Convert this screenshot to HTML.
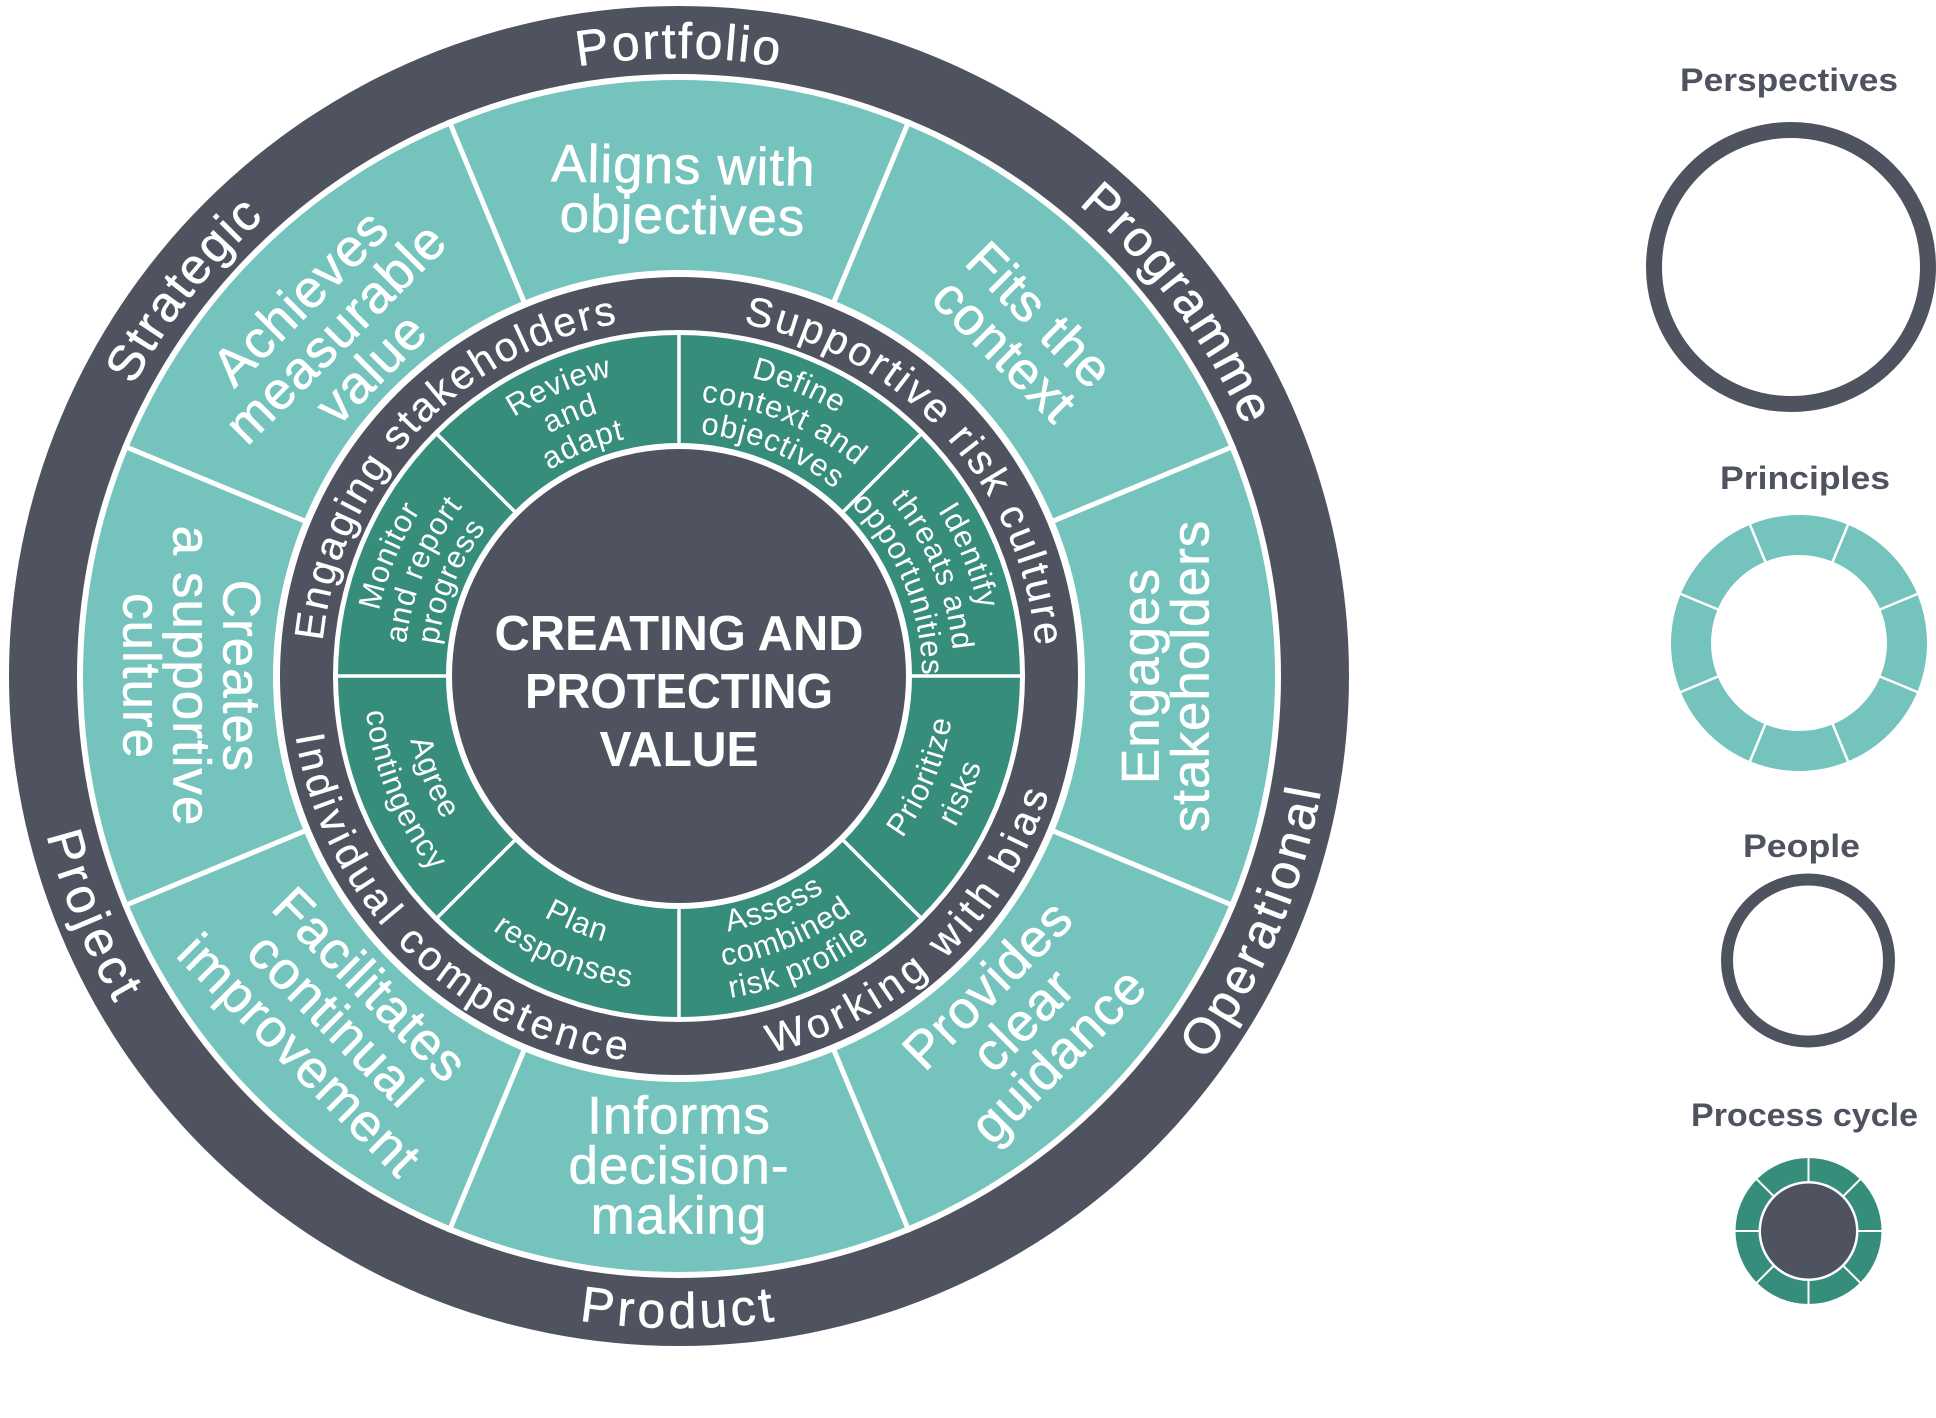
<!DOCTYPE html>
<html>
<head>
<meta charset="utf-8">
<style>
  html, body { margin: 0; padding: 0; background: #ffffff; }
  body { width: 1936px; height: 1418px; overflow: hidden; }
  svg { display: block; }
  .persp { font-family: "Liberation Sans", sans-serif; font-size: 50px; fill: #ffffff; stroke: #ffffff; stroke-width: 0.6px; }
  .ppl { font-family: "Liberation Sans", sans-serif; font-size: 41px; fill: #ffffff; stroke: #ffffff; stroke-width: 0.3px; }
  .prc { font-family: "Liberation Sans", sans-serif; font-size: 31px; fill: #ffffff; letter-spacing: 1px; }
  .prin { font-family: "Liberation Sans", sans-serif; font-size: 53px; fill: #ffffff; letter-spacing: 1px; stroke: #ffffff; stroke-width: 0.6px; }
  .ctr { font-family: "Liberation Sans", sans-serif; font-size: 49px; font-weight: bold; fill: #ffffff; }
  .leg { font-family: "Liberation Sans", sans-serif; font-size: 32px; font-weight: bold; fill: #4f5360; }
</style>
</head>
<body>
<svg width="1936" height="1418" viewBox="0 0 1936 1418" xmlns="http://www.w3.org/2000/svg">
  <defs>
    <path id="t618" d="M 70.39 568.68 A 618 618 0 0 1 1287.61 568.68"/>
    <path id="t358" d="M 326.44 613.83 A 358 358 0 0 1 1031.56 613.83"/>
    <path id="t307" d="M 376.66 622.69 A 307 307 0 0 1 981.34 622.69"/>
    <path id="t275" d="M 408.18 628.25 A 275 275 0 0 1 949.82 628.25"/>
    <path id="t243" d="M 439.69 633.80 A 243 243 0 0 1 918.31 633.80"/>
    <path id="b652" d="M 36.90 789.22 A 652 652 0 0 0 1321.10 789.22"/>
    <path id="b388" d="M 296.89 743.38 A 388 388 0 0 0 1061.11 743.38"/>
    <path id="b276" d="M 407.19 723.93 A 276 276 0 0 0 950.81 723.93"/>
    <path id="b315" d="M 368.78 730.70 A 315 315 0 0 0 989.22 730.70"/>
    <path id="b260" d="M 422.95 721.15 A 260 260 0 0 0 935.05 721.15"/>
    <path id="b293" d="M 390.45 726.88 A 293 293 0 0 0 967.55 726.88"/>
    <path id="b326" d="M 357.95 732.61 A 326 326 0 0 0 1000.05 732.61"/>
  </defs>

  <rect x="0" y="0" width="1936" height="1418" fill="#ffffff"/>

  <!-- ===== Main wheel ===== -->
  <circle cx="679" cy="676" r="670" fill="#4f5360"/>
  <circle cx="679" cy="676" r="602" fill="#ffffff"/>
  <circle cx="679" cy="676" r="596" fill="#74c4bd"/>
  <g stroke="#ffffff" stroke-width="5">
    <line x1="679" y1="74" x2="679" y2="272" transform="rotate(22.5 679 676)"/>
    <line x1="679" y1="74" x2="679" y2="272" transform="rotate(67.5 679 676)"/>
    <line x1="679" y1="74" x2="679" y2="272" transform="rotate(112.5 679 676)"/>
    <line x1="679" y1="74" x2="679" y2="272" transform="rotate(157.5 679 676)"/>
    <line x1="679" y1="74" x2="679" y2="272" transform="rotate(202.5 679 676)"/>
    <line x1="679" y1="74" x2="679" y2="272" transform="rotate(247.5 679 676)"/>
    <line x1="679" y1="74" x2="679" y2="272" transform="rotate(292.5 679 676)"/>
    <line x1="679" y1="74" x2="679" y2="272" transform="rotate(337.5 679 676)"/>
  </g>
  <circle cx="679" cy="676" r="406" fill="#ffffff"/>
  <circle cx="679" cy="676" r="399" fill="#4f5360"/>
  <circle cx="679" cy="676" r="346" fill="#ffffff"/>
  <circle cx="679" cy="676" r="341" fill="#378d7c"/>
  <g stroke="#ffffff" stroke-width="3.5">
    <line x1="679" y1="333" x2="679" y2="445" transform="rotate(0 679 676)"/>
    <line x1="679" y1="333" x2="679" y2="445" transform="rotate(45 679 676)"/>
    <line x1="679" y1="333" x2="679" y2="445" transform="rotate(90 679 676)"/>
    <line x1="679" y1="333" x2="679" y2="445" transform="rotate(135 679 676)"/>
    <line x1="679" y1="333" x2="679" y2="445" transform="rotate(180 679 676)"/>
    <line x1="679" y1="333" x2="679" y2="445" transform="rotate(225 679 676)"/>
    <line x1="679" y1="333" x2="679" y2="445" transform="rotate(270 679 676)"/>
    <line x1="679" y1="333" x2="679" y2="445" transform="rotate(315 679 676)"/>
  </g>
  <circle cx="679" cy="676" r="233" fill="#ffffff"/>
  <circle cx="679" cy="676" r="227" fill="#4f5360"/>

  <!-- Center text -->
  <text class="ctr" x="679" y="650" text-anchor="middle" textLength="369" lengthAdjust="spacingAndGlyphs">CREATING AND</text>
  <text class="ctr" x="679" y="708" text-anchor="middle" textLength="308" lengthAdjust="spacingAndGlyphs">PROTECTING</text>
  <text class="ctr" x="679" y="766" text-anchor="middle" textLength="159" lengthAdjust="spacingAndGlyphs">VALUE</text>

  <!-- Perspectives (outer ring) -->
  <g text-anchor="middle">
    <text class="persp" style="letter-spacing:2.2px"><textPath href="#t618" startOffset="50%">Portfolio</textPath></text>
    <g transform="rotate(53.3 679 676)"><text class="persp" style="letter-spacing:2.2px"><textPath href="#t618" startOffset="50%">Programme</textPath></text></g>
    <g transform="rotate(-52 679 676)"><text class="persp" style="letter-spacing:2px"><textPath href="#t618" startOffset="50%">Strategic</textPath></text></g>
    <g transform="rotate(-67 679 676)"><text class="persp" style="letter-spacing:3.8px"><textPath href="#b652" startOffset="50%">Operational</textPath></text></g>
    <text class="persp" style="letter-spacing:4px"><textPath href="#b652" startOffset="50%">Product</textPath></text>
    <g transform="rotate(67.7 679 676)"><text class="persp" style="letter-spacing:4.4px"><textPath href="#b652" startOffset="50%">Project</textPath></text></g>
  </g>

  <!-- People ring -->
  <g text-anchor="middle">
    <g transform="rotate(-47 679 676)"><text class="ppl" style="letter-spacing:2.4px"><textPath href="#t358" startOffset="50%">Engaging stakeholders</textPath></text></g>
    <g transform="rotate(48 679 676)"><text class="ppl" style="letter-spacing:2.8px"><textPath href="#t358" startOffset="50%">Supportive risk culture</textPath></text></g>
    <g transform="rotate(-43.4 679 676)"><text class="ppl" style="letter-spacing:4.8px"><textPath href="#b388" startOffset="50%">Working with bias</textPath></text></g>
    <g transform="rotate(44.2 679 676)"><text class="ppl" style="letter-spacing:4.4px"><textPath href="#b388" startOffset="50%">Individual competence</textPath></text></g>
  </g>

  <!-- Process cycle ring -->
  <g text-anchor="middle">
    <g transform="rotate(-22.5 679 676)">
      <text class="prc"><textPath href="#t307" startOffset="50%">Review</textPath></text>
      <text class="prc"><textPath href="#t275" startOffset="50%">and</textPath></text>
      <text class="prc"><textPath href="#t243" startOffset="50%">adapt</textPath></text>
    </g>
    <g transform="rotate(22.5 679 676)">
      <text class="prc"><textPath href="#t307" startOffset="50%">Define</textPath></text>
      <text class="prc"><textPath href="#t275" startOffset="50%">context and</textPath></text>
      <text class="prc"><textPath href="#t243" startOffset="50%">objectives</textPath></text>
    </g>
    <g transform="rotate(67.5 679 676)">
      <text class="prc"><textPath href="#t307" startOffset="50%">Identify</textPath></text>
      <text class="prc"><textPath href="#t275" startOffset="50%">threats and</textPath></text>
      <text class="prc"><textPath href="#t243" startOffset="50%">opportunities</textPath></text>
    </g>
    <g transform="rotate(-67.5 679 676)">
      <text class="prc"><textPath href="#t307" startOffset="50%">Monitor</textPath></text>
      <text class="prc"><textPath href="#t275" startOffset="50%">and report</textPath></text>
      <text class="prc"><textPath href="#t243" startOffset="50%">progress</textPath></text>
    </g>
    <g transform="rotate(-67.5 679 676)">
      <text class="prc"><textPath href="#b276" startOffset="50%">Prioritize</textPath></text>
      <text class="prc"><textPath href="#b315" startOffset="50%">risks</textPath></text>
    </g>
    <g transform="rotate(-22.5 679 676)">
      <text class="prc"><textPath href="#b260" startOffset="50%">Assess</textPath></text>
      <text class="prc"><textPath href="#b293" startOffset="50%">combined</textPath></text>
      <text class="prc"><textPath href="#b326" startOffset="50%">risk profile</textPath></text>
    </g>
    <g transform="rotate(22.5 679 676)">
      <text class="prc"><textPath href="#b276" startOffset="50%">Plan</textPath></text>
      <text class="prc"><textPath href="#b315" startOffset="50%">responses</textPath></text>
    </g>
    <g transform="rotate(67.5 679 676)">
      <text class="prc"><textPath href="#b276" startOffset="50%">Agree</textPath></text>
      <text class="prc"><textPath href="#b315" startOffset="50%">contingency</textPath></text>
    </g>
  </g>

  <!-- Principles (teal ring) -->
  <g text-anchor="middle">
    <g transform="translate(683 190) rotate(1)">
      <text class="prin" y="-6.5">Aligns with</text>
      <text class="prin" y="43.5">objectives</text>
    </g>
    <g transform="translate(1022.6 332.4) rotate(45)">
      <text class="prin" y="-6.5">Fits the</text>
      <text class="prin" y="43.5">context</text>
    </g>
    <g transform="translate(1165 676) rotate(-90)">
      <text class="prin" y="-6.5">Engages</text>
      <text class="prin" y="43.5">stakeholders</text>
    </g>
    <g transform="translate(1022.6 1019.6) rotate(-45)">
      <text class="prin" y="-31.5">Provides</text>
      <text class="prin" y="18.5">clear</text>
      <text class="prin" y="68.5">guidance</text>
    </g>
    <g transform="translate(679 1165)">
      <text class="prin" y="-31.5">Informs</text>
      <text class="prin" y="18.5">decision-</text>
      <text class="prin" y="68.5">making</text>
    </g>
    <g transform="translate(335.4 1019.6) rotate(45)">
      <text class="prin" y="-31.5">Facilitates</text>
      <text class="prin" y="18.5">continual</text>
      <text class="prin" y="68.5">improvement</text>
    </g>
    <g transform="translate(192 676) rotate(90)">
      <text class="prin" y="-31.5">Creates</text>
      <text class="prin" y="18.5">a supportive</text>
      <text class="prin" y="68.5">culture</text>
    </g>
    <g transform="translate(335.4 332.4) rotate(-45)">
      <text class="prin" y="-31.5">Achieves</text>
      <text class="prin" y="18.5">measurable</text>
      <text class="prin" y="68.5">value</text>
    </g>
  </g>

  <!-- ===== Legend ===== -->
  <text class="leg" x="1789" y="91" text-anchor="middle" textLength="218" lengthAdjust="spacingAndGlyphs">Perspectives</text>
  <circle cx="1791" cy="267" r="137" fill="none" stroke="#4f5360" stroke-width="16"/>

  <text class="leg" x="1805" y="489" text-anchor="middle" textLength="170" lengthAdjust="spacingAndGlyphs">Principles</text>
  <circle cx="1799" cy="643" r="108" fill="none" stroke="#74c4bd" stroke-width="40"/>
  <g stroke="#ffffff" stroke-width="2.5">
    <line x1="1799" y1="512" x2="1799" y2="558" transform="rotate(22.5 1799 643)"/>
    <line x1="1799" y1="512" x2="1799" y2="558" transform="rotate(67.5 1799 643)"/>
    <line x1="1799" y1="512" x2="1799" y2="558" transform="rotate(112.5 1799 643)"/>
    <line x1="1799" y1="512" x2="1799" y2="558" transform="rotate(157.5 1799 643)"/>
    <line x1="1799" y1="512" x2="1799" y2="558" transform="rotate(202.5 1799 643)"/>
    <line x1="1799" y1="512" x2="1799" y2="558" transform="rotate(247.5 1799 643)"/>
    <line x1="1799" y1="512" x2="1799" y2="558" transform="rotate(292.5 1799 643)"/>
    <line x1="1799" y1="512" x2="1799" y2="558" transform="rotate(337.5 1799 643)"/>
  </g>

  <text class="leg" x="1801.5" y="857" text-anchor="middle" textLength="117" lengthAdjust="spacingAndGlyphs">People</text>
  <circle cx="1808" cy="960.5" r="81" fill="none" stroke="#4f5360" stroke-width="12"/>

  <text class="leg" x="1804.5" y="1126" text-anchor="middle" textLength="227" lengthAdjust="spacingAndGlyphs">Process cycle</text>
  <circle cx="1808.5" cy="1231" r="73" fill="#378d7c"/>
  <g stroke="#ffffff" stroke-width="2">
    <line x1="1808.5" y1="1157" x2="1808.5" y2="1184" transform="rotate(0 1808.5 1231)"/>
    <line x1="1808.5" y1="1157" x2="1808.5" y2="1184" transform="rotate(45 1808.5 1231)"/>
    <line x1="1808.5" y1="1157" x2="1808.5" y2="1184" transform="rotate(90 1808.5 1231)"/>
    <line x1="1808.5" y1="1157" x2="1808.5" y2="1184" transform="rotate(135 1808.5 1231)"/>
    <line x1="1808.5" y1="1157" x2="1808.5" y2="1184" transform="rotate(180 1808.5 1231)"/>
    <line x1="1808.5" y1="1157" x2="1808.5" y2="1184" transform="rotate(225 1808.5 1231)"/>
    <line x1="1808.5" y1="1157" x2="1808.5" y2="1184" transform="rotate(270 1808.5 1231)"/>
    <line x1="1808.5" y1="1157" x2="1808.5" y2="1184" transform="rotate(315 1808.5 1231)"/>
  </g>
  <circle cx="1808.5" cy="1231" r="50" fill="#ffffff"/>
  <circle cx="1808.5" cy="1231" r="47.5" fill="#4f5360"/>
</svg>
</body>
</html>
